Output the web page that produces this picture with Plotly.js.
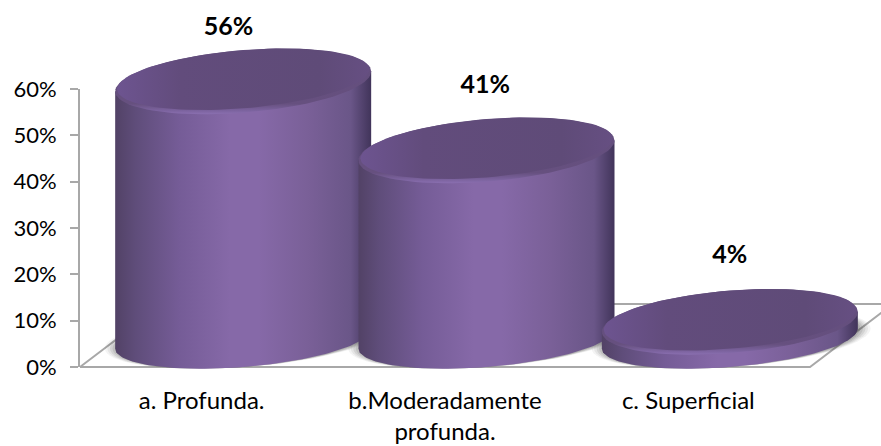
<!DOCTYPE html>
<html>
<head>
<meta charset="utf-8">
<script src="https://cdn.plot.ly/plotly-3.0.1.min.js"></script>
<style>html,body{margin:0;padding:0;background:#fff}</style>
</head>
<body>
<div id="chart" style="width:881px;height:446px"></div>
<script>
const categories = ['a. Profunda.', 'b.Moderadamente<br>profunda.', 'c. Superficial'];
const values = [55.6, 40.7, 3.7];
const labelLift = [17.3, 19.8, 20.1];
const labelShift = [0.11, 0.165, 0.17];
const yTicks = [0, 10, 20, 30, 40, 50, 60];

const FONT = 'Lato, Carlito, "Open Sans", sans-serif';
const W = 881, H = 446, L = 80, R = 71, T = 89, Bt = 79;
const pxX = (W - L - R) / 3, pxY = (H - T - Bt) / 60;
const depthX = 83 / pxX, depthY = 63 / pxY;
const offX = 41.5 / pxX, offY = 28.5 / pxY;
const A = 128 / pxX, B = 28.5 / pxY, S = 10 / pxY;
const GRID = '#a8a8a8';

const bodyScale = [[0,'#524266'],[0.08,'#5f4d7a'],[0.25,'#755c97'],[0.45,'#8669a8'],[0.56,'#8669a8'],[0.75,'#7a6098'],[0.92,'#6a5688'],[1,'#41345a']];
const capScale = [[0,'#6d5490'],[0.25,'#624c7c'],[0.8,'#5f4b78'],[1,'#664f82']];
const rimScale = [[0,'#8a6fb0'],[0.05,'#7d64a0'],[0.16,'#66507f'],[1,'#624d7c']];

function ell(cx, cy, a, b, s, t0, t1, n) {
  const x = [], y = [];
  for (let i = 0; i <= n; i++) {
    const t = t0 + (t1 - t0) * i / n;
    x.push(cx + a * Math.cos(t));
    y.push(cy + s * Math.cos(t) + b * Math.sin(t));
  }
  return {x, y};
}
function poly(p, extra) {
  return Object.assign({
    x: p.x, y: p.y, xaxis: 'x2', yaxis: 'y2', type: 'scatter', mode: 'lines', fill: 'toself',
    line: {width: 0}, hoverinfo: 'skip', showlegend: false
  }, extra);
}

const traces = [];
// invisible trace so the tick-bearing axes exist
traces.push({x: [0, 1, 2], y: values, type: 'scatter', mode: 'none', hoverinfo: 'skip', showlegend: false});

// floor outline
traces.push(poly({x: [-0.5, 2.5, 2.5 + depthX, -0.5 + depthX, -0.5], y: [0, 0, depthY, depthY, 0]},
  {fill: 'none', line: {width: 2, color: GRID}}));

// soft shadows on the floor
values.forEach((v, i) => {
  const cx = i + offX, cy = offY;
  [[1.09, 0.06], [1.07, 0.08], [1.05, 0.1], [1.03, 0.12], [1.01, 0.14]].forEach(([k, al]) => {
    traces.push(poly(ell(cx + 0.005, cy, A * k, B, S, 0, 2 * Math.PI, 72),
      {fillcolor: 'rgba(60,60,60,' + al + ')'}));
  });
});

// cylinders
values.forEach((v, i) => {
  const cx = i + offX, base = offY, top = base + v - 0.1;
  const low = ell(cx, base, A, B, S, Math.PI, 2 * Math.PI, 72);
  const body = {x: low.x.concat([cx + A, cx - A, low.x[0]]), y: low.y.concat([top + S, top - S, low.y[0]])};
  traces.push(poly(body, {
    fillcolor: '#755c97',
    fillgradient: {type: 'horizontal', colorscale: bodyScale}
  }));
  traces.push(poly(ell(cx, top, A, B + 0.6, S, 0, 2 * Math.PI, 96), {
    fillcolor: '#624d7c',
    fillgradient: {type: 'vertical', colorscale: rimScale}
  }));
  traces.push(poly(ell(cx, top + 0.45, A * 0.985, (B + 0.6) * 0.93, S, 0, 2 * Math.PI, 96), {
    fillcolor: '#604c79',
    fillgradient: {type: 'horizontal', colorscale: capScale}
  }));
});

// value labels
traces.push({
  x: values.map((v, i) => i + labelShift[i]),
  y: values.map((v, i) => v + labelLift[i]),
  xaxis: 'x2', yaxis: 'y2',
  text: values.map(v => Math.round(v) + '%'),
  type: 'scatter', mode: 'text', textposition: 'middle center',
  textfont: {family: FONT, size: 25, color: '#000000', weight: 700},
  hoverinfo: 'skip', showlegend: false
});

const layout = {
  width: W, height: H,
  margin: {l: 0, r: 0, t: 0, b: 0, pad: 0},
  paper_bgcolor: '#ffffff', plot_bgcolor: 'rgba(0,0,0,0)',
  showlegend: false, hovermode: false,
  font: {family: FONT, size: 20, color: '#000000'},
  xaxis: {
    domain: [L / W, (W - R) / W], anchor: 'y',
    type: 'linear', range: [-0.5, 2.5], tickmode: 'array', tickvals: [0, 1, 2], ticktext: categories,
    showgrid: false, zeroline: false, showline: false, ticks: '', ticklabelstandoff: 17,
    tickfont: {family: FONT, size: 24, color: '#000000'}
  },
  yaxis: {
    domain: [Bt / H, (H - T) / H], anchor: 'x',
    range: [0, 60], tickmode: 'array', tickvals: yTicks, ticktext: yTicks.map(t => t + '%'),
    showgrid: false, zeroline: false, showline: true, linecolor: GRID, linewidth: 2,
    ticks: 'outside', ticklen: 8, tickwidth: 2, tickcolor: GRID, ticklabelstandoff: 9,
    tickfont: {family: FONT, size: 22, color: '#000000'}
  },
  xaxis2: {
    domain: [0, 1], anchor: 'y2', visible: false, fixedrange: true,
    range: [-0.5 - L / pxX, 2.5 + R / pxX]
  },
  yaxis2: {
    domain: [0, 1], anchor: 'x2', visible: false, fixedrange: true,
    range: [-Bt / pxY, 60 + T / pxY]
  }
};
Plotly.newPlot('chart', traces, layout, {displayModeBar: false, staticPlot: true});
</script>
</body>
</html>
